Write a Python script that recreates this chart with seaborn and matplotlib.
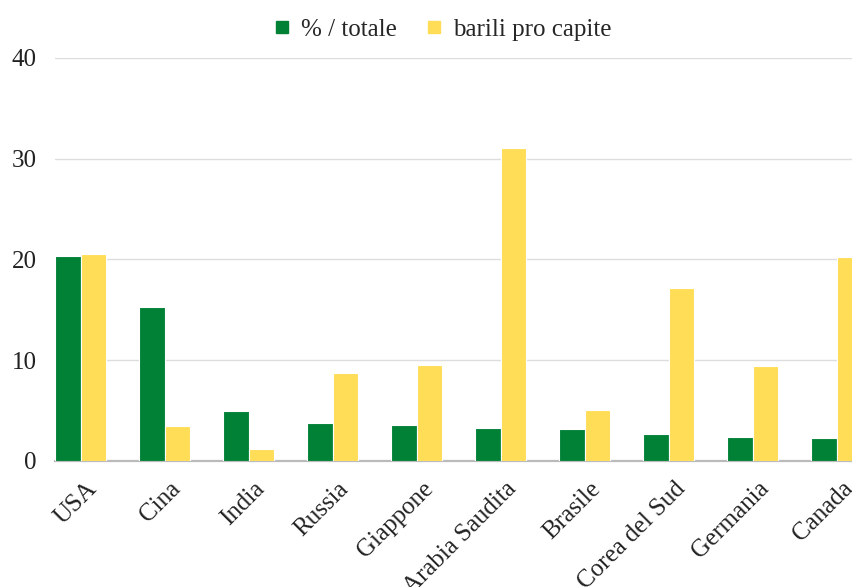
import matplotlib
matplotlib.use("Agg")
import matplotlib.pyplot as plt
import matplotlib.transforms as mtransforms
import seaborn as sns
import pandas as pd
from matplotlib.lines import Line2D

paesi = ["USA", "Cina", "India", "Russia", "Giappone", "Arabia Saudita",
         "Brasile", "Corea del Sud", "Germania", "Canada"]
quota_totale = [20.3, 15.3, 5.0, 3.8, 3.6, 3.3, 3.2, 2.7, 2.4, 2.3]
barili_pro_capite = [20.5, 3.5, 1.2, 8.7, 9.5, 31.1, 5.1, 17.2, 9.4, 20.2]
serie = ["% / totale", "barili pro capite"]
colori = ["#008136", "#FFDD57"]
yticks = [0, 10, 20, 30, 40]

df = pd.DataFrame({
    "paese": paesi * 2,
    "valore": quota_totale + barili_pro_capite,
    "serie": [serie[0]] * len(paesi) + [serie[1]] * len(paesi),
})

sns.set_theme(style="white")
plt.rcParams["font.family"] = ["Liberation Serif", "DejaVu Serif"]

fig = plt.figure(figsize=(8.52, 5.87), dpi=100)
ax = fig.add_axes([0.0646, 0.2147, 0.9354, 0.6865])

sns.barplot(data=df, x="paese", y="valore", hue="serie", order=paesi,
            hue_order=serie, palette=colori, saturation=1, width=0.607,
            gap=0, edgecolor="white", linewidth=0.8, ax=ax, legend=False,
            zorder=3)

ax.set_xlim(-0.304, 9.18)
ax.set_ylim(0, 40)
ax.set_yticks(yticks)
ax.set_yticklabels([str(t) for t in yticks], fontsize=18, color="#222222")
ax.yaxis.grid(True, color="#dddddd", linewidth=1.0, zorder=0)
ax.set_axisbelow(True)
for s in ["top", "right", "left"]:
    ax.spines[s].set_visible(False)
ax.spines["bottom"].set_color("#bbbbbb")
ax.spines["bottom"].set_linewidth(1.6)
ax.spines["bottom"].set_zorder(1)
ax.tick_params(axis="both", length=0)
ax.tick_params(axis="y", pad=13)
ax.set_xlabel("")
ax.set_ylabel("")

ax.set_xticks(range(len(paesi)))
ax.set_xticklabels(paesi, rotation=45, ha="right", rotation_mode="anchor",
                   fontsize=18, color="#222222")
ax.tick_params(axis="x", pad=12)
shift = mtransforms.ScaledTranslation(5 / 100, 0, fig.dpi_scale_trans)
for lbl in ax.get_xticklabels():
    lbl.set_transform(lbl.get_transform() + shift)

handles = [Line2D([0], [0], marker="s", linestyle="none", markersize=8,
                  markerfacecolor=c, markeredgecolor=c) for c in colori]
fig.legend(handles, serie, loc="center", bbox_to_anchor=(0.517, 0.95),
           ncol=2, frameon=False, fontsize=18, handletextpad=0.25,
           columnspacing=1.0, handlelength=1.0)

fig.savefig("out.png", dpi=100)
